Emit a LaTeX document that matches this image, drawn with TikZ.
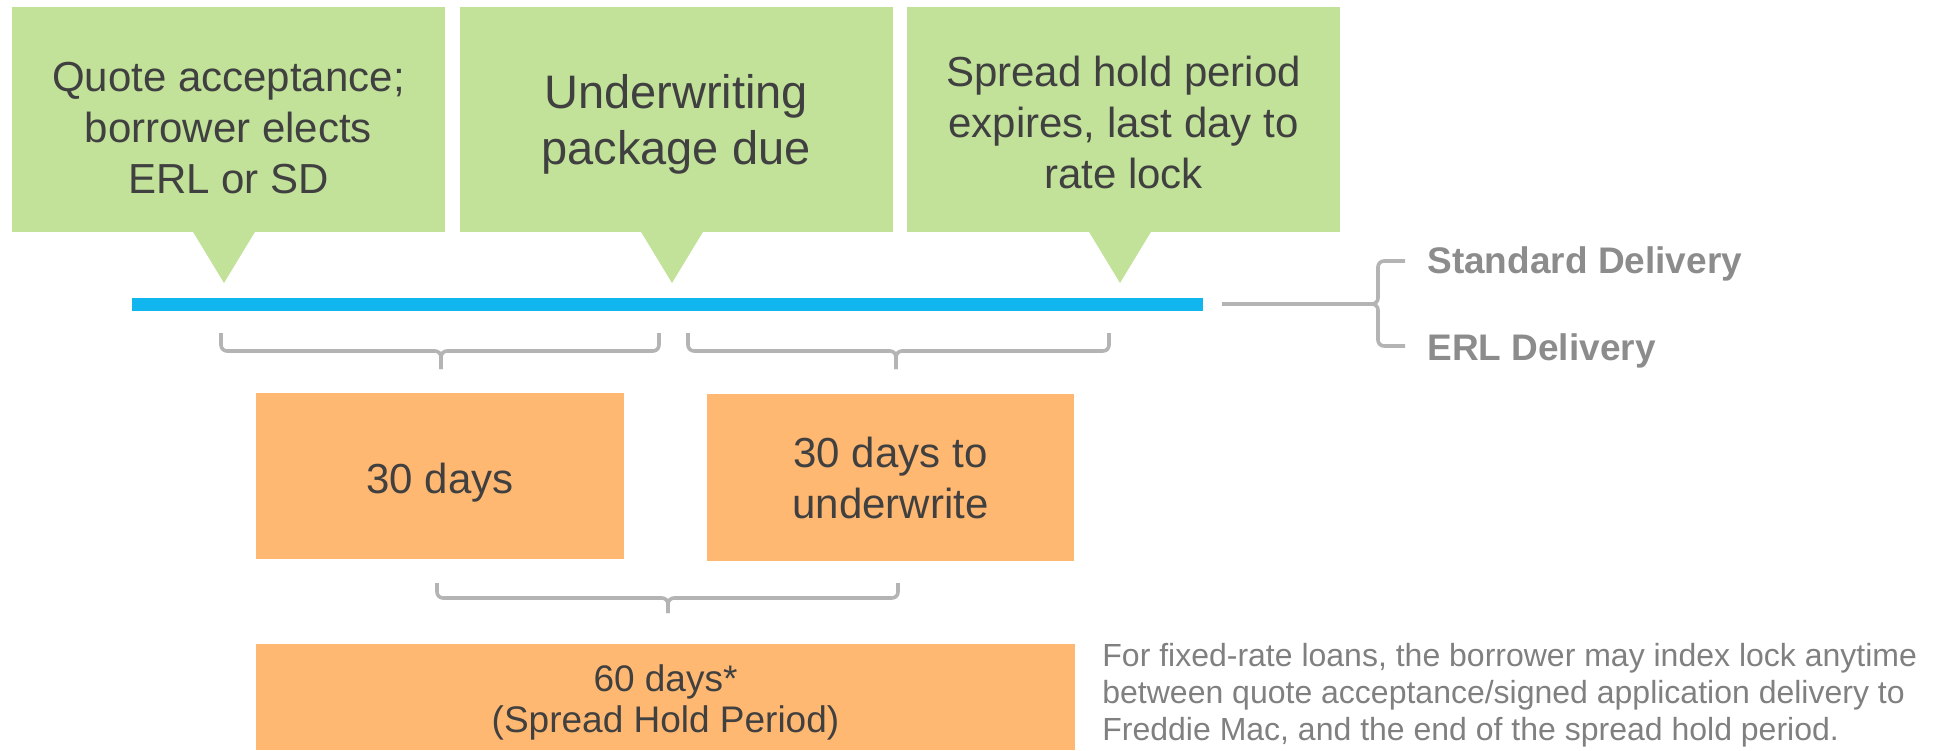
\documentclass[tikz,border=0pt]{standalone}
\usepackage{fontspec}
\setmainfont{Liberation Sans}
\usetikzlibrary{positioning}
\definecolor{callgreen}{HTML}{C2E29A}
\definecolor{barblue}{HTML}{12B6EE}
\definecolor{perorange}{HTML}{FFB871}
\definecolor{darktext}{HTML}{404040}
\definecolor{brkgrey}{HTML}{B4B4B4}
\definecolor{lblgrey}{HTML}{8C8C8C}
\definecolor{notegrey}{HTML}{808080}
\tikzset{
  callout/.style={fill=callgreen, minimum width=216.5pt, minimum height=112.5pt, inner sep=0pt,
    align=center, text=darktext, font=\fontsize{21}{25.5}\selectfont, text depth=0pt},
  period/.style={fill=perorange, inner sep=0pt, align=center, text=darktext,
    font=\fontsize{21}{25.5}\selectfont, text depth=0pt},
  brk/.style={draw=brkgrey, line width=1.8pt, rounded corners=3pt},
  legend/.style={text=lblgrey, font=\bfseries\fontsize{18.5}{22}\selectfont, anchor=base west, inner sep=0pt},
  note/.style={text=notegrey, font=\fontsize{16}{18.5}\selectfont, align=left, anchor=north west, inner sep=0pt}
}

\begin{document}
\begin{tikzpicture}[x=0.5pt,y=-0.5pt]
\useasboundingbox (0,0) rectangle (1939,750);

% milestones
\node[callout, text height=73.5pt] (quote) at (228.5,119.5) {Quote acceptance;\\ borrower elects\\ ERL or SD};
\node[callout, text height=44.5pt, font=\fontsize{23.5}{28}\selectfont] (uw) at (676,119.5) {Underwriting\\ package due};
\node[callout, text height=68.5pt] (expire) at (1123.5,119.5) {Spread hold period\\ expires, last day to\\ rate lock};
\foreach \t in {224,672,1120}
  \fill[callgreen] (\t-31.5,231) -- (\t,283) -- (\t+31.5,231) -- cycle;

% timeline
\node[fill=barblue, minimum width=535.5pt, minimum height=6.5pt, inner sep=0pt] (line) at (667.5,304) {};
\coordinate (fork) at (1368,304);
\draw[brk] ([xshift=9.5pt]line.east) -- (fork);
\draw[brk] (1405,261) -| (1378,304) -- (fork);
\draw[brk] (1405,346) -| (1378,304) -- (fork);
\node[legend] (sd) at (1427,273) {Standard Delivery};
\node[legend] (erl) at (1427,360) {ERL Delivery};

% brackets
\foreach \l/\r/\m/\t/\h in {221/659/441/333/18, 688/1109/896/333/18, 437/898/668/583/15} {
  \draw[brk] (\l,\t) |- (\m,\t+\h) -- (\m,\t+2*\h);
  \draw[brk] (\r,\t) |- (\m,\t+\h) -- (\m,\t+2*\h);
}

% periods
\node[period, minimum width=184pt, minimum height=83pt, text height=17pt] (first) at (440,476) {30 days};
\node[period, minimum width=183.5pt, minimum height=83.5pt, text height=40.5pt] (second) at (890.5,477.5) {30 days to\\ underwrite};
\node[period, minimum width=409.5pt, minimum height=53pt, text height=35pt,
  font=\fontsize{18.5}{20.5}\selectfont] (hold) at (665.5,697) {60 days*\\ (Spread Hold Period)};

\node[note] (fn) at (1102,643) {For fixed-rate loans, the borrower may index lock anytime\\ between quote acceptance/signed application delivery to\\ Freddie Mac, and the end of the spread hold period.};
\end{tikzpicture}
\end{document}
